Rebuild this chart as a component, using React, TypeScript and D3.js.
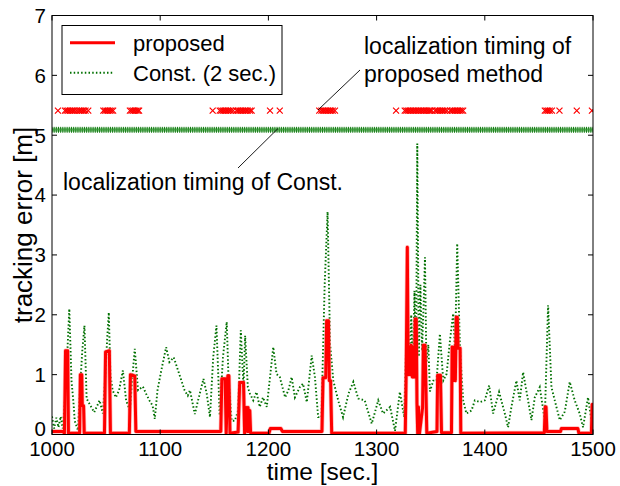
import React from "react";
import * as d3 from "d3";

// ---------- data ----------
const proposedTimes = [1000, 1010, 1011.5, 1012.5, 1014.5, 1015.2, 1025.5, 1026.2, 1027.5, 1028, 1029.2, 1029.8, 1048.5, 1049.5, 1053, 1054, 1071.5, 1072.5, 1076.5, 1077.5, 1156, 1157, 1160, 1161, 1162.5, 1163.5, 1164.5, 1172, 1173.5, 1177, 1178, 1179.5, 1180.5, 1181.2, 1182, 1182.8, 1183.6, 1200.5, 1201.8, 1211.5, 1213, 1249.5, 1250.5, 1253, 1253.8, 1255.5, 1256.3, 1257.5, 1258.5, 1326.5, 1327.3, 1328.4, 1329.2, 1330, 1331, 1332, 1333, 1334, 1335, 1335.6, 1336.7, 1337.3, 1338, 1338.7, 1339.5, 1342.5, 1343.2, 1344.8, 1346.4, 1355.8, 1356.4, 1359, 1360, 1369.2, 1369.8, 1370.8, 1371.8, 1372.8, 1373.6, 1374.6, 1375.3, 1377.2, 1377.8, 1455, 1455.8, 1456.6, 1457.4, 1470, 1470.8, 1486, 1487, 1498.5, 1499.2, 1500];
const proposedError = [0.05, 0.05, 0.02, 1.4, 1.4, 0.02, 0.02, 1.0, 1.0, 0.48, 0.48, 0.02, 0.02, 1.38, 1.4, 0.02, 0.02, 1.0, 0.98, 0.05, 0.05, 0.93, 0.93, 0.02, 0.98, 0.98, 0.02, 0.04, 0.87, 0.87, 0.02, 0.45, 0.05, 0.45, 0.05, 0.4, 0.02, 0.02, 0.1, 0.1, 0.05, 0.05, 0.95, 0.95, 1.9, 1.9, 0.9, 0.9, 0.02, 0.02, 1.0, 3.13, 1.0, 1.46, 1.0, 1.49, 0.96, 1.46, 0.96, 1.93, 1.93, 0.52, 0.0, 0.46, 0.0, 0.45, 1.49, 1.49, 0.02, 0.05, 0.99, 0.99, 0.03, 0.03, 1.46, 0.9, 1.46, 0.9, 1.96, 1.96, 1.44, 1.44, 0.02, 0.03, 0.46, 0.46, 0.05, 0.05, 0.1, 0.1, 0.02, 0.02, 0.5, 0.5];

const constTimes = [1000, 1002, 1004, 1006, 1008, 1010, 1012, 1014, 1016, 1018, 1020, 1021, 1024, 1026, 1028, 1030, 1032, 1035, 1039, 1044, 1047, 1049, 1051, 1052.5, 1054, 1056, 1059, 1062, 1065.5, 1068.5, 1072, 1074, 1076.5, 1079.5, 1084, 1087, 1090, 1093, 1095, 1097.5, 1101, 1105.5, 1108.5, 1112.5, 1116.5, 1122.5, 1125.5, 1127.5, 1132, 1135, 1140, 1143, 1146, 1149, 1152, 1155, 1158, 1161.5, 1163, 1166, 1169, 1172, 1174.5, 1177, 1178.5, 1181, 1183, 1186, 1189, 1192, 1195, 1198.5, 1201.5, 1204.5, 1207.5, 1210.5, 1215.5, 1218.5, 1221.5, 1224.5, 1229, 1232, 1235.5, 1240, 1243, 1246, 1249, 1252, 1254.7, 1257, 1260, 1264.5, 1269, 1274, 1278.5, 1283, 1289, 1295.5, 1301.5, 1306, 1312.5, 1317, 1321.5, 1325.5, 1327.5, 1329, 1330.5, 1332, 1333.5, 1335, 1336.5, 1337.6, 1339, 1340.5, 1342, 1343.5, 1344.7, 1346, 1347.8, 1349.3, 1352.4, 1355.4, 1358.5, 1361.6, 1364.7, 1367.8, 1370.8, 1372.5, 1374.5, 1377, 1380, 1383, 1387.7, 1390.8, 1395.4, 1400, 1404, 1407.7, 1413.2, 1418.5, 1421.5, 1424.6, 1429.2, 1432.3, 1435.4, 1440, 1443.1, 1446.2, 1450.8, 1455.4, 1458.5, 1461.6, 1466.2, 1469.3, 1473.9, 1478.5, 1483.1, 1487.7, 1490.8, 1495.4, 1498.5, 1500];
const constError = [0.3, 0.1, 0.28, 0.12, 0.3, 0.1, 0.6, 1.3, 2.1, 0.9, 0.5, 0.23, 0.07, 0.8, 1.4, 1.82, 0.6, 0.5, 0.37, 0.57, 0.35, 0.9, 1.6, 2.04, 1.0, 0.74, 0.62, 0.74, 1.07, 0.57, 0.4, 0.9, 1.43, 0.74, 0.8, 0.68, 0.57, 0.48, 0.26, 0.74, 1.07, 1.46, 1.21, 1.29, 1.07, 0.74, 0.65, 0.74, 0.34, 0.57, 0.93, 0.68, 0.29, 1.29, 1.82, 0.32, 1.29, 1.88, 1.01, 0.23, 0.23, 0.4, 1.74, 0.79, 1.65, 0.79, 0.68, 0.57, 0.71, 0.46, 0.62, 0.46, 0.96, 1.46, 1.01, 0.96, 0.62, 0.74, 0.96, 0.62, 0.79, 0.85, 0.54, 1.32, 0.96, 0.29, 0.29, 2.5, 3.72, 1.51, 0.9, 0.57, 0.29, 0.68, 0.88, 0.6, 0.57, 0.18, 0.57, 0.35, 0.46, 0.06, 0.71, 0.29, 1.6, 2.07, 1.0, 2.0, 1.1, 2.4, 1.2, 4.86, 1.3, 2.5, 1.4, 2.2, 2.96, 1.2, 1.5, 0.72, 0.9, 0.9, 1.68, 0.9, 1.01, 1.57, 2.02, 1.4, 3.19, 1.46, 0.57, 0.35, 0.4, 0.57, 0.54, 0.57, 0.82, 0.35, 0.71, 0.35, 0.12, 0.46, 0.9, 0.57, 1.04, 0.57, 0.24, 0.62, 0.79, 0.24, 2.16, 0.79, 0.46, 0.24, 0.38, 0.88, 0.57, 0.35, 0.12, 0.62, 0.24, 0.5];

// localization timings of proposed method
const proposedLocTimes = [1005.5, 1012, 1013.5, 1015, 1016.5, 1018, 1019.5, 1021, 1023, 1025, 1026.5, 1028, 1029.5, 1031, 1033.5, 1047.5, 1049, 1050.5, 1052, 1053.5, 1055, 1056.5, 1072, 1073.5, 1075, 1076.5, 1078, 1079.5, 1080.5, 1148.5, 1155, 1156.5, 1158, 1159.5, 1161, 1162.5, 1164, 1165.5, 1167.5, 1170.5, 1172, 1173.5, 1175, 1176.5, 1178, 1179.5, 1181, 1183, 1184.5, 1201.5, 1210.5, 1247, 1249, 1250.5, 1252, 1253.5, 1255, 1256.5, 1258, 1259.5, 1261.5, 1318, 1326, 1327.5, 1329, 1330.5, 1332, 1333.5, 1335, 1336.5, 1338, 1339.5, 1341, 1342.5, 1344, 1345.5, 1347, 1348.5, 1349.5, 1351, 1354, 1355.5, 1357, 1358.5, 1360, 1361.5, 1363, 1365, 1368, 1369.5, 1371, 1372.5, 1374, 1375.5, 1377, 1378.5, 1380, 1455.5, 1457, 1458.5, 1460, 1462, 1469, 1485, 1499];
const CONST_INTERVAL = 2; // Const. method localizes every 2 sec.
const constLocTimes = d3.range(1000, 1500 + 0.001, CONST_INTERVAL);
const PROPOSED_MARK_LEVEL = 5.41;
const CONST_MARK_LEVEL = 5.09;

const xTicks = [1000, 1100, 1200, 1300, 1400, 1500];
const yTicks = [0, 1, 2, 3, 4, 5, 6, 7];

const legendLabels = ["proposed", "Const. (2 sec.)"];

// ---------- layout ----------
const W = 620, H = 486;
const L = 52, R = 593, T = 15.5, B = 434.5;
const FONT = "'Liberation Sans', Arial, Helvetica, sans-serif";

export default function App() {
  const x = d3.scaleLinear().domain([1000, 1500]).range([L, R]);
  const y = d3.scaleLinear().domain([0, 7]).range([B, T]);

  const line = d3.line<[number, number]>().x(d => x(d[0])).y(d => y(d[1]));
  const propPts = proposedTimes.map((t, i) => [t, proposedError[i]] as [number, number]);
  const constPts = constTimes.map((t, i) => [t, constError[i]] as [number, number]);

  const tl = 5;
  const px = (t: number) => x(t);

  return (
    <svg width={W} height={H} style={{ position: "absolute", left: 0, top: 0, background: "#fff" }} fontFamily={FONT}>
      <defs>
        <clipPath id="plotclip">
          <rect x={L} y={T} width={R - L} height={B - T} />
        </clipPath>
      </defs>
      <rect x={0} y={0} width={W} height={H} fill="#fff" />
      <g clipPath="url(#plotclip)">
        {/* Const. line (dotted green) */}
        <path d={line(constPts) || ""} fill="none" stroke="#007000" strokeWidth={1.9} strokeDasharray="1.5,2.2" />
        {/* proposed line (red) */}
        <path d={line(propPts) || ""} fill="none" stroke="#ff8080" strokeWidth={4.4} strokeLinejoin="round" opacity={0.55} />
        <path d={line(propPts) || ""} fill="none" stroke="#ff0000" strokeWidth={3} strokeLinejoin="round" />
        {/* localization timing markers */}
        <line x1={L} x2={R} y1={y(CONST_MARK_LEVEL)} y2={y(CONST_MARK_LEVEL)} stroke="#8cc88c" strokeWidth={4} />
        {constLocTimes.map((t, i) => (
          <line key={"c" + i} x1={px(t)} x2={px(t)} y1={y(CONST_MARK_LEVEL) - 3} y2={y(CONST_MARK_LEVEL) + 3} stroke="#007000" strokeWidth={0.9} />
        ))}
        <line x1={L} x2={R} y1={y(CONST_MARK_LEVEL)} y2={y(CONST_MARK_LEVEL)} stroke="#3a9a3a" strokeWidth={1} />
        {proposedLocTimes.map((t, i) => {
          const cx = px(t), cy = y(PROPOSED_MARK_LEVEL), s = 3;
          return (
            <path key={"p" + i} d={`M${cx - s},${cy - s}L${cx + s},${cy + s}M${cx - s},${cy + s}L${cx + s},${cy - s}`} stroke="#ff0000" strokeWidth={1.2} fill="none" />
          );
        })}
      </g>

      {/* frame */}
      <rect x={L} y={T} width={R - L} height={B - T} fill="none" stroke="#000" strokeWidth={1} />
      {/* ticks */}
      {xTicks.map(t => (
        <g key={"xt" + t} stroke="#000" strokeWidth={1}>
          <line x1={x(t)} x2={x(t)} y1={B} y2={B - tl} />
          <line x1={x(t)} x2={x(t)} y1={T} y2={T + tl} />
        </g>
      ))}
      {yTicks.map(t => (
        <g key={"yt" + t} stroke="#000" strokeWidth={1}>
          <line x1={L} x2={L + tl} y1={y(t)} y2={y(t)} />
          <line x1={R} x2={R - tl} y1={y(t)} y2={y(t)} />
        </g>
      ))}
      {/* tick labels */}
      {xTicks.map(t => (
        <text key={"xl" + t} x={x(t)} y={456} textAnchor="middle" fontSize={20.5} fill="#000">{t}</text>
      ))}
      {yTicks.map(t => (
        <text key={"yl" + t} x={46} y={t === 0 ? y(t) - 6 : y(t)} dy="0.36em" textAnchor="end" fontSize={20.5} fill="#000">{t}</text>
      ))}
      {/* axis titles */}
      <text x={(L + R) / 2} y={480} textAnchor="middle" fontSize={24.5} fill="#000">time [sec.]</text>
      <text transform={`translate(32,${(T + B) / 2}) rotate(-90)`} textAnchor="middle" fontSize={26} fill="#000">tracking error [m]</text>

      {/* legend */}
      <rect x={62} y={25.5} width={220} height={69} fill="#fff" stroke="#000" strokeWidth={1} />
      <line x1={70} x2={115} y1={42.7} y2={42.7} stroke="#ff0000" strokeWidth={3} />
      <line x1={70} x2={113} y1={72.7} y2={72.7} stroke="#007000" strokeWidth={1.9} strokeDasharray="1.5,2.2" />
      <text x={133} y={50.5} fontSize={22} fill="#000">{legendLabels[0]}</text>
      <text x={133} y={81} fontSize={22} fill="#000">{legendLabels[1]}</text>

      {/* annotations */}
      <line x1={360} y1={70} x2={318} y2={110} stroke="#000" strokeWidth={0.9} />
      <text x={364} y={54} fontSize={23} fill="#000">localization timing of</text>
      <text x={364} y={82} fontSize={23} fill="#000">proposed method</text>
      <line x1={238} y1={168} x2={278} y2={128.5} stroke="#000" strokeWidth={0.9} />
      <text x={63} y={190} fontSize={23} fill="#000">localization timing of Const.</text>
    </svg>
  );
}
